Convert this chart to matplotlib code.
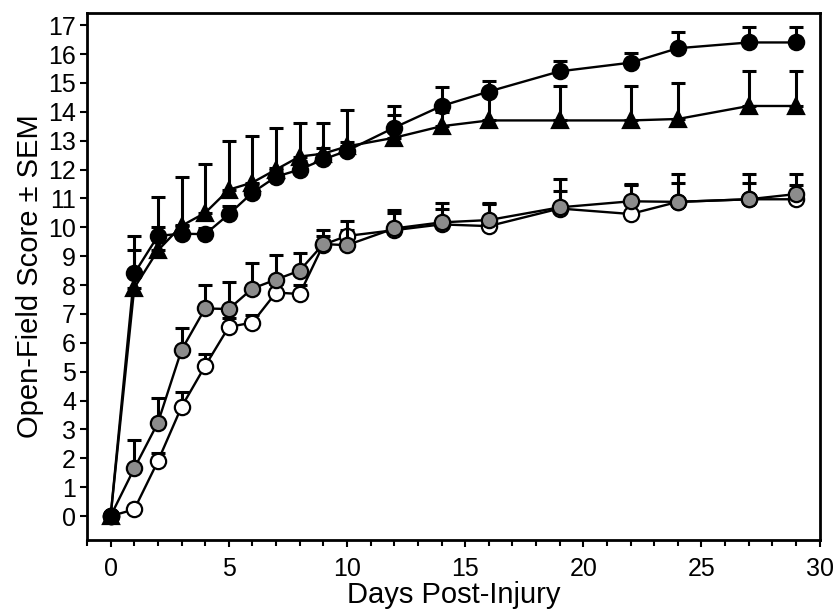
import matplotlib
matplotlib.use("Agg")
import matplotlib.pyplot as plt
from matplotlib.ticker import MultipleLocator

# days of testing
DAYS = [0, 1, 2, 3, 4, 5, 6, 7, 8, 9, 10, 12, 14, 16, 19, 22, 24, 27, 29]

# black circles
black_mean = [0, 8.4, 9.7, 9.78, 9.76, 10.45, 11.2, 11.75, 12.0, 12.35, 12.65, 13.45, 14.2, 14.7, 15.4, 15.7, 16.2, 16.4, 16.4]
black_sem = [0, 0.8, 0.3, 0.3, 0.2, 0.3, 0.3, 0.3, 0.3, 0.4, 0.3, 0.75, 0.65, 0.35, 0.35, 0.35, 0.55, 0.55, 0.55]

# black triangles
tri_mean = [0, 7.9, 9.2, 10.05, 10.5, 11.3, 11.55, 12.0, 12.45, 12.55, 12.8, 13.1, 13.5, 13.7, 13.7, 13.7, 13.75, 14.2, 14.2]
tri_sem = [0, 1.8, 1.85, 1.7, 1.7, 1.7, 1.6, 1.45, 1.15, 1.05, 1.25, 0.8, 0.5, 1.0, 1.2, 1.2, 1.25, 1.2, 1.2]

# grey circles
grey_mean = [0, 1.65, 3.23, 5.75, 7.19, 7.17, 7.88, 8.19, 8.5, 9.42, 9.38, 9.96, 10.17, 10.25, 10.69, 10.9, 10.88, 10.97, 11.15]
grey_sem = [0, 0.98, 0.85, 0.75, 0.8, 0.95, 0.9, 0.85, 0.6, 0.5, 0.85, 0.65, 0.66, 0.6, 0.97, 0.6, 0.96, 0.87, 0.7]

# white circles
white_mean = [0, 0.23, 1.9, 3.78, 5.2, 6.55, 6.7, 7.74, 7.69, 9.4, 9.7, 9.9, 10.1, 10.04, 10.65, 10.46, 10.88, 10.97, 10.97]
white_sem = [0, 0.1, 0.3, 0.5, 0.4, 0.3, 0.28, 0.3, 0.3, 0.3, 0.2, 0.6, 0.55, 0.78, 0.6, 1.0, 0.66, 0.57, 0.5]

plt.rcParams["font.family"] = ["Liberation Sans", "DejaVu Sans"]

fig = plt.figure(figsize=(8.34, 6.13), dpi=100)
ax = fig.add_axes([0.1043, 0.119, 0.8785, 0.8598])


def draw(mean, sem, marker, face, size, z):
	lower = [0 for _ in sem]
	ax.errorbar(DAYS, mean, yerr=[lower, sem], fmt="none", ecolor="black",
		elinewidth=2.2, capsize=5, capthick=2.2, zorder=z)
	ax.plot(DAYS, mean, "-", color="black", linewidth=1.7, marker=marker,
		markersize=size, markerfacecolor=face, markeredgecolor="black",
		markeredgewidth=1.6, zorder=z + 0.5)


draw(white_mean, white_sem, "o", "white", 11, 2)
draw(grey_mean, grey_sem, "o", "#8c8c8c", 11, 3)
draw(tri_mean, tri_sem, "^", "black", 11, 4)
draw(black_mean, black_sem, "o", "black", 11, 5)

ax.set_xlim(-1, 30)
ax.set_ylim(-0.83, 17.42)
ax.xaxis.set_major_locator(MultipleLocator(5))
ax.xaxis.set_minor_locator(MultipleLocator(1))
ax.yaxis.set_major_locator(MultipleLocator(1))
ax.tick_params(axis="both", which="both", direction="out", width=1.5, labelsize=18)
ax.tick_params(axis="both", which="major", length=5)
ax.tick_params(axis="x", which="minor", length=4)
ax.tick_params(axis="x", which="major", pad=7)
ax.tick_params(axis="y", which="major", pad=3)

for s in ax.spines.values():
	s.set_linewidth(2)

ax.set_xlabel("Days Post-Injury", fontsize=21, labelpad=0)
ax.set_ylabel("Open-Field Score \u00b1 SEM", fontsize=21, labelpad=3)

fig.savefig("out.png", dpi=100)
